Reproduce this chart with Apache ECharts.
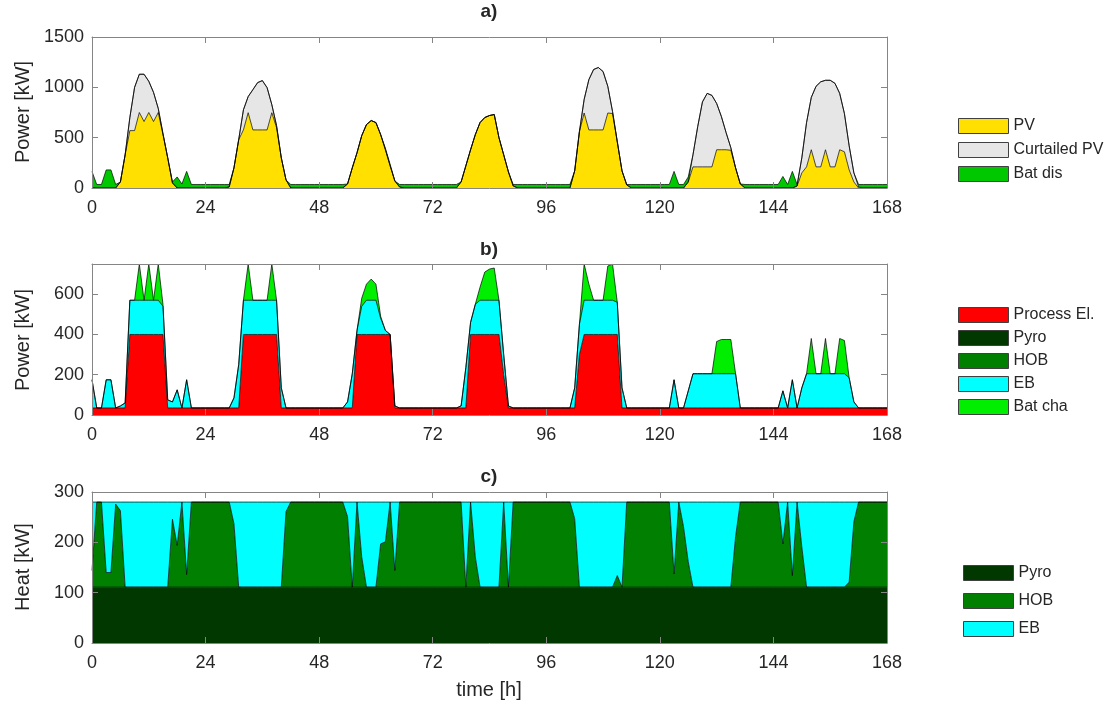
<!DOCTYPE html>
<html><head><meta charset="utf-8">
<script src="https://cdn.jsdelivr.net/npm/echarts@6/dist/echarts.min.js"></script>
<style>html,body{margin:0;padding:0;background:#fff}#c{width:1112px;height:708px}</style>
</head><body><div id="c"></div>
<script>
// ---------- data (hourly, h = 0..168) ----------
const xTicks = [0, 24, 48, 72, 96, 120, 144, 168];
const yTicksA = [0, 500, 1000, 1500];
const yTicksB = [0, 200, 400, 600];
const yTicksC = [0, 100, 200, 300];

// a) Power [kW]
const pv = [0,0,0,0,0,0,60,330,570,570,750,660,
 750,660,750,530,300,50,0,0,0,0,0,0,
 0,0,0,0,0,10,200,480,577,748,577,577,
 577,577,748,600,300,80,0,0,0,0,0,0,
 0,0,0,0,0,0,40,200,350,520,630,670,
 650,530,380,220,70,10,0,0,0,0,0,0,
 0,0,0,0,0,0,60,220,380,530,650,700,
 720,730,500,330,160,20,0,0,0,0,0,0,
 0,0,0,0,0,0,170,560,745,577,577,577,
 577,745,740,460,170,30,0,0,0,0,0,0,
 0,0,0,0,0,0,60,210,210,210,210,210,
 380,380,380,375,200,40,0,0,0,0,0,0,
 0,0,0,0,0,20,150,210,380,210,210,380,
 210,210,380,360,180,60,0,0,0,0,0,0,
 0];
const curtailedPV = [0,0,0,0,0,0,0,0,130,430,380,470,
 310,290,40,10,0,0,0,0,0,0,0,0,
 0,0,0,0,0,0,0,0,200,160,400,470,
 490,420,80,20,0,0,0,0,0,0,0,0,
 0,0,0,0,0,0,0,0,0,0,0,0,
 0,0,0,0,0,0,0,0,0,0,0,0,
 0,0,0,0,0,0,0,0,0,0,0,0,
 0,0,0,0,0,0,0,0,0,0,0,0,
 0,0,0,0,0,0,0,0,135,500,600,620,
 580,265,20,0,0,0,0,0,0,0,0,0,
 0,0,0,0,0,0,0,120,400,645,730,710,
 460,330,170,25,0,0,0,0,0,0,0,0,
 0,0,0,0,0,0,150,440,520,800,845,690,
 860,830,560,380,240,90,10,0,0,0,0,0,
 0];
const batDis = [164,35,35,180,180,35,0,0,0,0,0,0,
 0,0,0,0,0,10,110,40,165,35,35,35,
 35,35,35,35,35,25,0,0,0,0,0,0,
 0,0,0,0,0,0,35,35,35,35,35,35,
 35,35,35,35,35,35,0,0,0,0,0,0,
 0,0,15,15,0,25,35,35,35,35,35,35,
 35,35,35,35,35,35,0,0,0,0,0,0,
 0,0,0,0,0,15,35,35,35,35,35,35,
 35,35,35,35,35,35,0,0,0,0,0,0,
 0,0,0,0,0,5,35,35,35,35,35,35,
 35,35,35,165,35,35,50,0,0,0,0,0,
 0,0,0,0,0,0,35,35,35,35,35,35,
 35,35,115,35,165,15,0,0,0,0,0,0,
 0,0,0,0,0,0,25,35,35,35,35,35,
 35];

// b) Power [kW]
const processEl = [35,35,35,35,35,35,35,35,400,400,400,400,
 400,400,400,400,35,35,35,35,35,35,35,35,
 35,35,35,35,35,35,35,35,400,400,400,400,
 400,400,400,400,35,35,35,35,35,35,35,35,
 35,35,35,35,35,35,35,35,400,400,400,400,
 400,400,400,400,35,35,35,35,35,35,35,35,
 35,35,35,35,35,35,35,35,400,400,400,400,
 400,400,400,200,35,35,35,35,35,35,35,35,
 35,35,35,35,35,35,35,300,400,400,400,400,
 400,400,400,400,35,35,35,35,35,35,35,35,
 35,35,35,35,35,35,35,35,35,35,35,35,
 35,35,35,35,35,35,35,35,35,35,35,35,
 35,35,35,35,35,35,35,35,35,35,35,35,
 35,35,35,35,35,35,35,35,35,35,35,35,
 35];
const ebEl = [140,0,0,140,140,0,10,25,170,170,170,170,
 170,170,170,140,40,30,90,0,140,0,0,0,
 0,0,0,0,0,0,50,215,170,170,170,170,
 170,170,170,170,100,0,0,0,0,0,0,0,
 0,0,0,0,0,0,30,170,20,140,170,170,
 170,80,20,0,10,0,0,0,0,0,0,0,
 0,0,0,0,0,0,10,200,60,150,170,170,
 170,170,170,100,10,0,0,0,0,0,0,0,
 0,0,0,0,0,0,100,150,170,170,170,170,
 170,170,170,160,100,0,0,0,0,0,0,0,
 0,0,0,140,0,0,85,170,170,170,170,170,
 170,170,170,170,170,0,0,0,0,0,0,0,
 0,0,85,0,140,0,100,170,170,170,170,170,
 170,170,170,170,150,30,0,0,0,0,0,0,
 0];
const batCha = [0,0,0,0,0,0,0,0,0,0,180,0,
 180,0,180,10,0,0,0,0,0,0,0,0,
 0,0,0,0,0,0,0,0,0,180,0,0,
 0,0,180,0,0,0,0,0,0,0,0,0,
 0,0,0,0,0,0,0,0,0,40,80,105,
 80,10,0,0,0,0,0,0,0,0,0,0,
 0,0,0,0,0,0,0,0,0,0,65,140,
 155,160,0,0,0,0,0,0,0,0,0,0,
 0,0,0,0,0,0,0,0,180,80,0,0,
 0,170,180,0,0,0,0,0,0,0,0,0,
 0,0,0,0,0,0,0,0,0,0,0,0,
 160,170,170,170,0,0,0,0,0,0,0,0,
 0,0,0,0,0,0,0,0,175,0,0,175,
 0,0,175,165,0,0,0,0,0,0,0,0,
 0];

// c) Heat [kW]
const pyroHeat = [111,111,111,111,111,111,111,111,111,111,111,111,
 111,111,111,111,111,111,111,111,111,111,111,111,
 111,111,111,111,111,111,111,111,111,111,111,111,
 111,111,111,111,111,111,111,111,111,111,111,111,
 111,111,111,111,111,111,111,111,111,111,111,111,
 111,111,111,111,111,111,111,111,111,111,111,111,
 111,111,111,111,111,111,111,111,111,111,111,111,
 111,111,111,111,111,111,111,111,111,111,111,111,
 111,111,111,111,111,111,111,111,111,111,111,111,
 111,111,111,111,111,111,111,111,111,111,111,111,
 111,111,111,111,111,111,111,111,111,111,111,111,
 111,111,111,111,111,111,111,111,111,111,111,111,
 111,111,111,111,111,111,111,111,111,111,111,111,
 111,111,111,111,111,111,111,111,111,111,111,111,
 111];
const hobHeat = [33,169,169,29,29,165,152,0,0,0,0,0,
 0,0,0,0,0,135,83,169,25,169,169,169,
 169,169,169,169,169,169,126,0,0,0,0,0,
 0,0,0,0,0,150,169,169,169,169,169,169,
 169,169,169,169,169,169,140,0,169,60,0,0,
 0,86,90,169,33,169,169,169,169,169,169,169,
 169,169,169,169,169,169,169,0,169,60,0,0,
 0,0,0,169,0,169,169,169,169,169,169,169,
 169,169,169,169,169,169,136,0,0,0,0,0,
 0,0,0,23,0,169,169,169,169,169,169,169,
 169,169,169,26,169,120,50,0,0,0,0,0,
 0,0,0,0,100,169,169,169,169,169,169,169,
 169,169,86,169,23,169,80,0,0,0,0,0,
 0,0,0,0,10,130,169,169,169,169,169,169,
 169];
const ebHeat = [136,0,0,140,140,4,17,169,169,169,169,169,
 169,169,169,169,169,34,86,0,144,0,0,0,
 0,0,0,0,0,0,43,169,169,169,169,169,
 169,169,169,169,169,19,0,0,0,0,0,0,
 0,0,0,0,0,0,29,169,0,109,169,169,
 169,83,79,0,136,0,0,0,0,0,0,0,
 0,0,0,0,0,0,0,169,0,109,169,169,
 169,169,169,0,169,0,0,0,0,0,0,0,
 0,0,0,0,0,0,33,169,169,169,169,169,
 169,169,169,146,169,0,0,0,0,0,0,0,
 0,0,0,143,0,49,119,169,169,169,169,169,
 169,169,169,169,69,0,0,0,0,0,0,0,
 0,0,83,0,146,0,89,169,169,169,169,169,
 169,169,169,169,159,39,0,0,0,0,0,0,
 0];

// ---------- chart ----------
const hours = [];
for (let h = 0; h <= 168; h++) hours.push(String(h));
const tickSet = new Set(xTicks);
const isTick = (idx) => tickSet.has(idx);

const FONT = '"Liberation Sans", Arial, Helvetica, sans-serif';
const AX = '#858585', TXT = '#262626';
const COL = {
  pv: '#ffe000', curt: '#e6e6e6', batDis: '#00c800',
  proc: '#ff0000', pyro: '#003800', hob: '#007f00', eb: '#00ffff', batCha: '#00ee00'
};

const gridTops = [37, 264, 492];
const yMax = [1500, 750, 300];
const yTicks = [yTicksA, yTicksB, yTicksC];

const grid = gridTops.map(t => ({left: 92, width: 795, top: t, height: 151}));
const xAxis = [], yAxis = [];
const line = {show: true, onZero: false, lineStyle: {color: AX, width: 1}};
for (let i = 0; i < 3; i++) {
  xAxis.push({
    type: 'category', data: hours, boundaryGap: false, gridIndex: i, position: 'bottom', z: 10,
    axisLine: line, splitLine: {show: false},
    axisTick: {show: true, inside: true, length: 6, interval: isTick, lineStyle: {color: AX}},
    axisLabel: {show: true, interval: isTick, color: TXT, fontSize: 18, fontFamily: FONT, margin: 11}
  });
  xAxis.push({
    type: 'category', data: hours, boundaryGap: false, gridIndex: i, position: 'top', z: 10,
    axisLine: line, splitLine: {show: false},
    axisTick: {show: true, inside: true, length: 6, interval: isTick, lineStyle: {color: AX}},
    axisLabel: {show: false}
  });
  yAxis.push({
    type: 'value', gridIndex: i, min: 0, max: yMax[i], position: 'left', z: 10,
    axisLine: line, splitLine: {show: false},
    axisTick: {show: true, inside: true, length: 6, lineStyle: {color: AX}, customValues: yTicks[i]},
    axisLabel: {show: true, color: TXT, fontSize: 18, fontFamily: FONT, margin: 8,
      customValues: yTicks[i], formatter: v => String(v)}
  });
  yAxis.push({
    type: 'value', gridIndex: i, min: 0, max: yMax[i], position: 'right', z: 10,
    axisLine: line, splitLine: {show: false},
    axisTick: {show: true, inside: true, length: 6, lineStyle: {color: AX}, customValues: yTicks[i]},
    axisLabel: {show: false}
  });
}

function area(name, values, color, gi, stack) {
  return {
    type: 'line', name, xAxisIndex: 2 * gi, yAxisIndex: 2 * gi, stack,
    data: values,
    showSymbol: false, symbol: 'none', smooth: false, z: 2,
    lineStyle: {color: '#000', width: 0.7},
    areaStyle: {color: color, opacity: 1},
    itemStyle: {color: color},
    emphasis: {disabled: true}, silent: true
  };
}

const series = [
  area('PV', pv, COL.pv, 0, 'a'),
  area('Curtailed PV', curtailedPV, COL.curt, 0, 'a'),
  area('Bat dis', batDis, COL.batDis, 0, 'a'),
  area('Process El.', processEl, COL.proc, 1, 'b'),
  area('EB', ebEl, COL.eb, 1, 'b'),
  area('Bat cha', batCha, COL.batCha, 1, 'b'),
  area('Pyro', pyroHeat, COL.pyro, 2, 'c'),
  area('HOB', hobHeat, COL.hob, 2, 'c'),
  area('EB', ebHeat, COL.eb, 2, 'c')
];

function legend(left, top, gap, items) {
  return {
    left, top, orient: 'vertical', itemWidth: 50, itemHeight: 15, itemGap: gap,
    icon: 'rect', padding: 0, selectedMode: false,
    itemStyle: {borderColor: '#404040', borderWidth: 1},
    textStyle: {fontSize: 16, color: TXT, fontFamily: FONT, lineHeight: 16},
    data: items.map(([n, c]) => ({name: n, itemStyle: {color: c}}))
  };
}

const txt = (text, x, y, font, rot) => ({
  type: 'text', x, y, rotation: rot || 0, z: 20,
  style: {text, font, fill: TXT, align: 'center', verticalAlign: 'middle'}
});

const option = {
  animation: false,
  backgroundColor: '#fff',
  grid, xAxis, yAxis, series,
  legend: [
    legend(958, 118, 8, [['PV', COL.pv], ['Curtailed PV', COL.curt], ['Bat dis', COL.batDis]]),
    legend(958, 307, 7, [['Process El.', COL.proc], ['Pyro', COL.pyro], ['HOB', COL.hob], ['EB', COL.eb], ['Bat cha', COL.batCha]]),
    legend(963, 565, 12, [['Pyro', COL.pyro], ['HOB', COL.hob], ['EB', COL.eb]])
  ],
  graphic: [
    txt('a)', 489, 12, 'bold 19px ' + FONT),
    txt('b)', 489, 250, 'bold 19px ' + FONT),
    txt('c)', 489, 477, 'bold 19px ' + FONT),
    txt('Power [kW]', 23, 112, '20px ' + FONT, Math.PI / 2),
    txt('Power [kW]', 23, 340, '20px ' + FONT, Math.PI / 2),
    txt('Heat [kW]', 23, 567, '20px ' + FONT, Math.PI / 2),
    txt('time [h]', 489, 690, '20px ' + FONT)
  ]
};

const chart = echarts.init(document.getElementById('c'), null, {renderer: 'canvas'});
chart.setOption(option);
</script></body></html>
